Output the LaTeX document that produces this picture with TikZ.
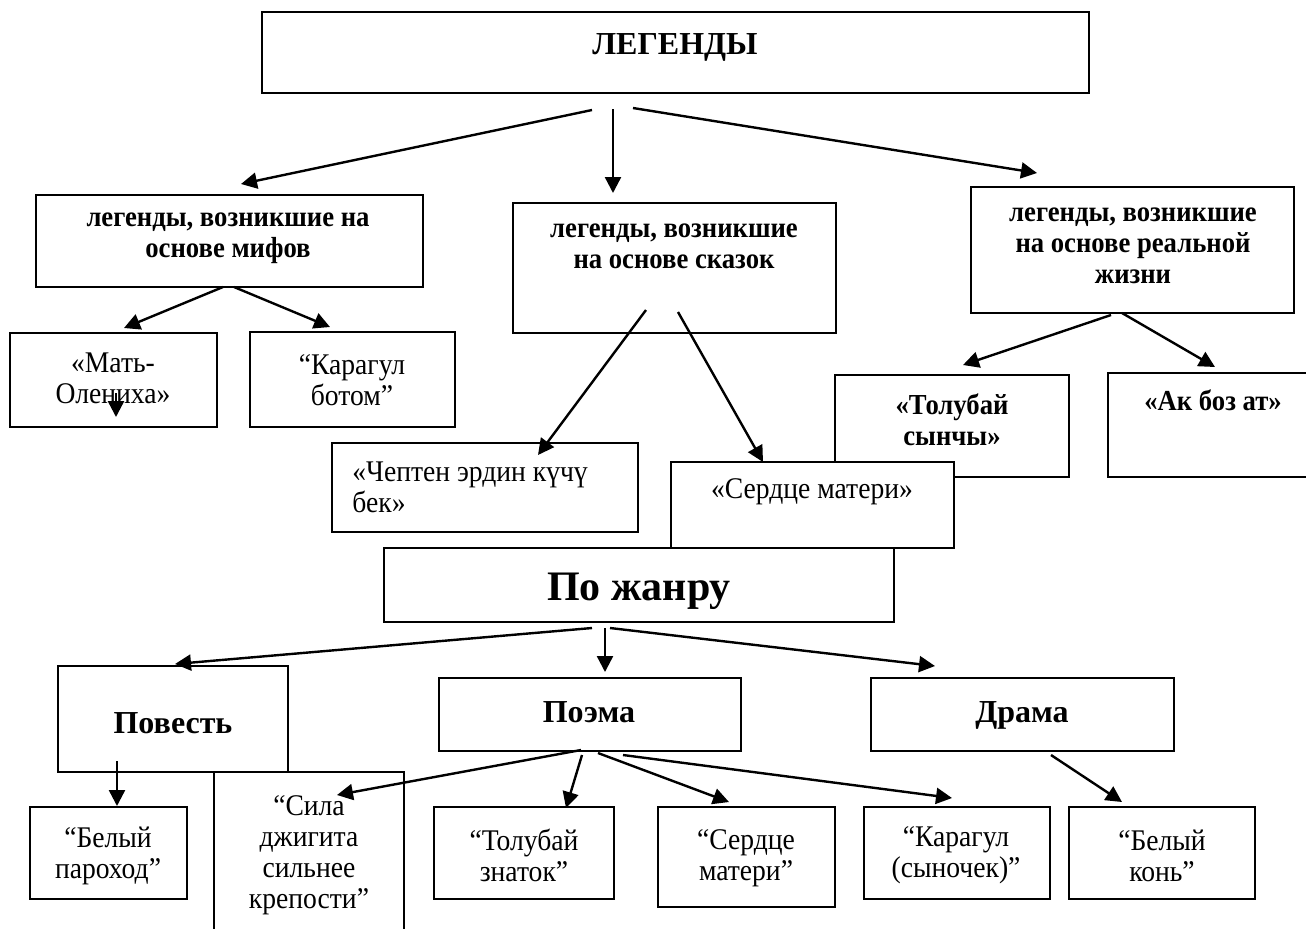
\documentclass[tikz,border=0pt]{standalone}
\usepackage{fontspec}
\setmainfont{Liberation Serif}
\newfontfamily\condfont{Liberation Serif}[FakeStretch=0.92]
\usetikzlibrary{arrows.meta,fit}
\begin{document}
\begin{tikzpicture}[x=0.5pt,y=-0.5pt,
  box/.style={draw, line width=1pt, inner sep=0pt, fill=white},
  lbl/.style={inner sep=0pt, font=\condfont\fontsize{15}{15.5}\selectfont, align=center},
  lblb/.style={inner sep=0pt, font=\condfont\fontsize{14.5}{15.5}\selectfont\bfseries, align=center},
  head/.style={inner sep=0pt, font=\fontsize{16}{18}\selectfont\bfseries},
  arr/.style={-{Triangle[length=8pt,width=8pt]}, line width=1.2pt}]
\useasboundingbox (0,0) rectangle (1306,928);
% boxes
\node[box, fit={(262,12) (1089,93)}] (leg) {};
\node[box, fit={(36,195) (423,287)}] (myth) {};
\node[box, fit={(513,203) (836,333)}] (skaz) {};
\node[box, fit={(971,187) (1294,313)}] (real) {};
\node[box, fit={(10,333) (217,427)}] (mat) {};
\node[box, fit={(250,332) (455,427)}] (karb) {};
\node[box, fit={(332,443) (638,532)}] (chep) {};
\node[box, fit={(835,375) (1069,477)}] (tol) {};
\node[box, fit={(671,462) (954,548)}] (serd1) {};
\node[box, fit={(1108,373) (1320,477)}] (akb) {};
\node[box, fit={(384,548) (894,622)}] (pozh) {};
\node[box, fit={(58,666) (288,772)}] (pov) {};
\node[box, fit={(439,678) (741,751)}] (poem) {};
\node[box, fit={(871,678) (1174,751)}] (drama) {};
\node[box, fit={(30,807) (187,899)}] (bpar) {};
\node[box, fit={(214,772) (404,945)}] (sila) {};
\node[box, fit={(434,807) (614,899)}] (tzn) {};
\node[box, fit={(658,807) (835,907)}] (serd2) {};
\node[box, fit={(864,807) (1050,899)}] (kars) {};
\node[box, fit={(1069,807) (1255,899)}] (bkon) {};
% texts
\node[head, anchor=base] (tleg) at (675,54) {ЛЕГЕНДЫ};
\node[lblb] (tmyth) at (228,238) {легенды, возникшие на\\основе мифов};
\node[lblb] (tskaz) at (674,246) {легенды, возникшие\\на основе сказок};
\node[lblb] (treal) at (1133,246) {легенды, возникшие\\на основе реальной\\жизни};
\node[lbl] (tmat) at (113,378) {«Мать-\\Олениха»};
\node[lbl] (tkarb) at (352,380) {“Карагул\\ботом”};
\node[lbl, align=left, anchor=west] (tchep) at (352,487) {«Чептен эрдин күчү\\бек»};
\node[lblb] (ttol) at (952,420) {«Толубай\\сынчы»};
\node[lbl, anchor=base] (tserd1) at (812,498) {«Сердце матери»};
\node[lblb, anchor=base] (takb) at (1213,410) {«Ак боз ат»};
\node[inner sep=0pt, font=\fontsize{21}{24}\selectfont\bfseries, anchor=base] (tpozh) at (639,600) {По жанру};
\node[head, anchor=base] (tpov) at (173,733) {Повесть};
\node[head, anchor=base] (tpoem) at (589,722) {Поэма};
\node[head, anchor=base] (tdrama) at (1022,722) {Драма};
\node[lbl] (tbpar) at (108,856) {“Белый\\пароход”};
\node[lbl] (tsila) at (309,855) {“Сила\\джигита\\сильнее\\крепости”};
\node[lbl] (ttzn) at (524,855) {“Толубай\\знаток”};
\node[lbl] (tserd2) at (746,858) {“Сердце\\матери”};
\node[lbl] (tkars) at (956,855) {“Карагул\\(сыночек)”};
\node[lbl] (tbkon) at (1162,856) {“Белый\\конь”};
% arrow ends
\coordinate (l1) at (592,110); \coordinate (l1e) at (241,184);
\coordinate (l2) at (613,109); \coordinate (l2e) at (613,193);
\coordinate (l3) at (633,108); \coordinate (l3e) at (1037,173);
\coordinate (m1) at (223,287); \coordinate (m1e) at (124,328);
\coordinate (m2) at (234,287); \coordinate (m2e) at (330,327);
\coordinate (mi) at (116,393); \coordinate (mie) at (116,417);
\coordinate (s1) at (646,310); \coordinate (s1e) at (538,455);
\coordinate (s2) at (678,312); \coordinate (s2e) at (763,462);
\coordinate (r1) at (1111,315); \coordinate (r1e) at (963,365);
\coordinate (r2) at (1122,313); \coordinate (r2e) at (1215,367);
\coordinate (p1) at (592,628); \coordinate (p1e) at (175,664);
\coordinate (p2) at (605,628); \coordinate (p2e) at (605,672);
\coordinate (p3) at (610,628); \coordinate (p3e) at (935,666);
\coordinate (v1) at (117,761); \coordinate (v1e) at (117,806);
\coordinate (e1) at (581,750); \coordinate (e1e) at (337,795);
\coordinate (e2) at (582,755); \coordinate (e2e) at (566,808);
\coordinate (e3) at (598,753); \coordinate (e3e) at (729,802);
\coordinate (e4) at (623,755); \coordinate (e4e) at (952,798);
\coordinate (d1) at (1051,755); \coordinate (d1e) at (1122,802);
% arrows
\draw[arr] (l1) -- (l1e);
\draw[arr] (l2) -- (l2e);
\draw[arr] (l3) -- (l3e);
\draw[arr] (m1) -- (m1e);
\draw[arr] (m2) -- (m2e);
\draw[arr] (mi) -- (mie);
\draw[arr] (s1) -- (s1e);
\draw[arr] (s2) -- (s2e);
\draw[arr] (r1) -- (r1e);
\draw[arr] (r2) -- (r2e);
\draw[arr] (p1) -- (p1e);
\draw[arr] (p2) -- (p2e);
\draw[arr] (p3) -- (p3e);
\draw[arr] (v1) -- (v1e);
\draw[arr] (e1) -- (e1e);
\draw[arr] (e2) -- (e2e);
\draw[arr] (e3) -- (e3e);
\draw[arr] (e4) -- (e4e);
\draw[arr] (d1) -- (d1e);
\end{tikzpicture}
\end{document}
